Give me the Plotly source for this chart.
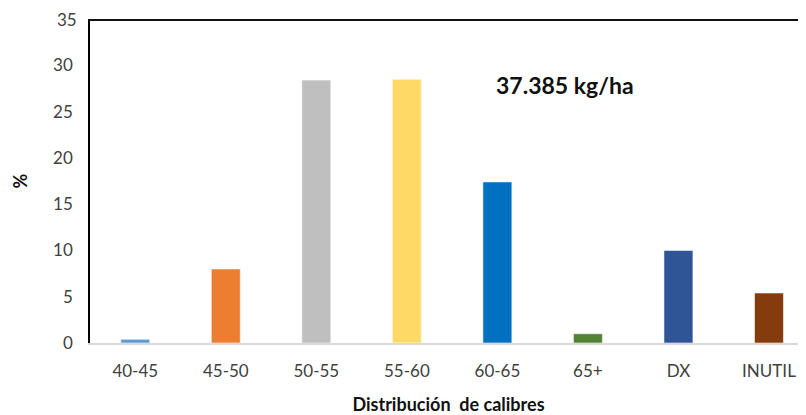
import plotly.graph_objects as go

calibres = ["40-45", "45-50", "50-55", "55-60", "60-65", "65+", "DX", "INUTIL"]
porcentaje = [0.4, 8.0, 28.4, 28.5, 17.4, 1.0, 10.0, 5.4]
colores = ["#5B9BD5", "#ED7D31", "#BFBFBF", "#FFD966",
           "#0070C0", "#548235", "#2F5597", "#843C0C"]
y_ticks = [0, 5, 10, 15, 20, 25, 30, 35]

FONT = "Lato, 'Open Sans', sans-serif"

fig = go.Figure(go.Bar(
    x=calibres, y=porcentaje,
    width=0.32,
    marker=dict(color=colores, line=dict(color="rgba(255,255,255,0.55)", width=1)),
    showlegend=False,
))

# page body adds ~7px offset, so margins are trimmed to compensate
fig.update_layout(
    width=806, height=415,
    margin=dict(l=82, r=7, t=11, b=80, autoexpand=False),
    plot_bgcolor="white", paper_bgcolor="white",
    font=dict(family=FONT, color="#404040"),
    xaxis=dict(
        range=[-0.5, 7.42], automargin=False,
        showline=True, linecolor="#D9D9D9", linewidth=2,
        showgrid=False, ticks="", ticklabelstandoff=12,
        tickfont=dict(size=17, color="#404040"),
        title=dict(text="<b>Distribución  de calibres</b>",
                   font=dict(size=18, color="#111111"), standoff=18),
    ),
    yaxis=dict(
        range=[0, y_ticks[-1]], tickmode="array", tickvals=y_ticks, automargin=False,
        showline=True, linecolor="black", linewidth=1.5,
        showgrid=False, zeroline=False, ticks="", ticklabelstandoff=12,
        tickfont=dict(size=17, color="#404040"),
        title=dict(text="<b>%</b>", font=dict(size=18, color="#111111"), standoff=21),
    ),
    shapes=[dict(type="line", xref="paper", yref="paper",
                 x0=-0.002, x1=1, y0=0.997, y1=0.997, layer="above",
                 line=dict(color="#111111", width=2))],
    annotations=[
        dict(text="<b>37.385 kg/ha</b>", x=4.75, y=27.9,
             xref="x", yref="y", showarrow=False,
             font=dict(size=23, color="#111111")),
        # top tick label gets dropped at the range edge, so draw it here
        dict(text=str(y_ticks[-1]), x=0, y=y_ticks[-1], xref="paper", yref="y",
             xanchor="right", xshift=-11, showarrow=False,
             font=dict(size=17, color="#404040")),
    ],
)

fig.write_html("out.html")
